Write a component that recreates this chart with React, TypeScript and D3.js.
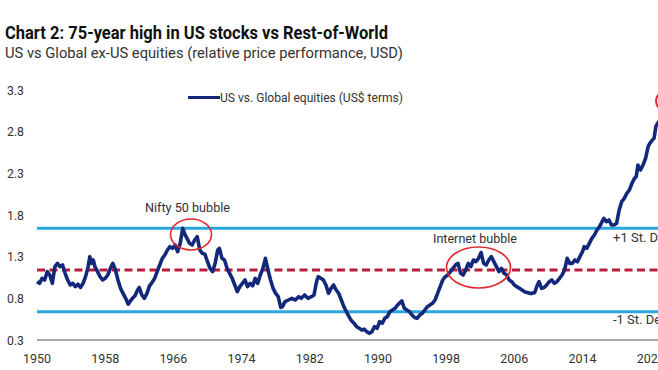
import * as d3 from "d3";
import React, { useRef, useEffect } from "react";

// year (decimal) and US / ex-US relative price
const years = [
  1950.0, 1950.3, 1950.6, 1950.9, 1951.2, 1951.5, 1951.8, 1952.1, 1952.4, 1952.7,
  1953.0, 1953.3, 1953.6, 1953.9, 1954.2, 1954.5, 1954.8, 1955.1, 1955.4, 1955.7,
  1956.0, 1956.2, 1956.4, 1956.6, 1956.8, 1957.1, 1957.4, 1957.7, 1958.0, 1958.3,
  1958.7, 1958.9, 1959.2, 1959.5, 1959.8, 1960.1, 1960.4, 1960.7, 1960.9, 1961.2,
  1961.5, 1961.8, 1962.0, 1962.3, 1962.6, 1962.9, 1963.2, 1963.5, 1963.8, 1964.1,
  1964.4, 1964.7, 1965.0, 1965.3, 1965.6, 1965.9, 1966.2, 1966.5, 1966.8, 1967.1,
  1967.3, 1967.6, 1967.9, 1968.2, 1968.5, 1968.8, 1969.1, 1969.4, 1969.7, 1970.0,
  1970.3, 1970.6, 1970.9, 1971.2, 1971.4, 1971.7, 1972.0, 1972.3, 1972.6, 1972.9,
  1973.2, 1973.5, 1973.8, 1974.1, 1974.4, 1974.7, 1975.0, 1975.3, 1975.6, 1975.9,
  1976.2, 1976.5, 1976.8, 1977.1, 1977.4, 1977.7, 1978.0, 1978.3, 1978.6, 1978.8,
  1979.1, 1979.5, 1979.9, 1980.3, 1980.7, 1981.0, 1981.4, 1981.8, 1982.2, 1982.5,
  1982.8, 1983.0, 1983.3, 1983.6, 1983.9, 1984.2, 1984.5, 1984.8, 1985.1, 1985.4,
  1985.7, 1986.0, 1986.3, 1986.6, 1986.9, 1987.2, 1987.5, 1987.8, 1988.1, 1988.4,
  1988.7, 1989.0, 1989.3, 1989.6, 1989.9, 1990.2, 1990.5, 1990.8, 1991.1, 1991.4,
  1991.7, 1992.0, 1992.3, 1992.6, 1992.8, 1993.1, 1993.4, 1993.7, 1994.0, 1994.3,
  1994.6, 1994.9, 1995.2, 1995.5, 1995.8, 1996.1, 1996.4, 1996.7, 1997.0, 1997.3,
  1997.6, 1997.9, 1998.2, 1998.5, 1998.8, 1999.1, 1999.4, 1999.7, 2000.0, 2000.3,
  2000.6, 2000.9, 2001.2, 2001.5, 2001.8, 2002.1, 2002.4, 2002.7, 2003.0, 2003.3,
  2003.6, 2003.9, 2004.2, 2004.5, 2004.8, 2005.1, 2005.4, 2005.7, 2006.0, 2006.3,
  2006.6, 2006.9, 2007.2, 2007.5, 2007.8, 2008.1, 2008.4, 2008.7, 2008.9, 2009.2,
  2009.5, 2009.8, 2010.1, 2010.4, 2010.7, 2011.0, 2011.3, 2011.6, 2011.9, 2012.2,
  2012.5, 2012.8, 2013.1, 2013.4, 2013.7, 2014.0, 2014.2, 2014.5, 2014.8, 2015.1,
  2015.4, 2015.7, 2016.0, 2016.3, 2016.5, 2016.8, 2017.1, 2017.4, 2017.7, 2018.0,
  2018.3, 2018.6, 2018.9, 2019.2, 2019.5, 2019.8, 2020.1, 2020.3, 2020.5, 2020.8,
  2021.1, 2021.4, 2021.7, 2021.9, 2022.2, 2022.4, 2022.6, 2022.8, 2023.1, 2023.5,
  2023.9, 2024.3,
];
const usVsGlobal = [
  1.0, 0.98, 1.04, 1.02, 1.12, 1.08, 0.98, 1.18, 1.22, 1.18,
  1.2, 1.1, 1.02, 0.96, 0.98, 0.94, 0.97, 0.93, 0.98, 1.06,
  1.18, 1.3, 1.22, 1.26, 1.18, 1.12, 1.06, 1.02, 1.04, 1.08,
  1.18, 1.22, 1.14, 1.02, 0.92, 0.86, 0.8, 0.73, 0.76, 0.8,
  0.83, 0.9, 0.93, 0.84, 0.8, 0.86, 0.95, 0.99, 1.04, 1.12,
  1.2, 1.28, 1.32, 1.38, 1.42, 1.4, 1.44, 1.36, 1.46, 1.64,
  1.58, 1.52, 1.46, 1.44, 1.5, 1.54, 1.38, 1.34, 1.33, 1.24,
  1.16, 1.12, 1.22, 1.38, 1.4, 1.28, 1.26, 1.16, 1.1, 1.04,
  0.96, 0.88, 0.94, 0.98, 1.02, 0.94, 0.98, 0.95, 1.04, 0.98,
  1.08, 1.16, 1.28, 1.14, 1.02, 0.92, 0.86, 0.82, 0.69, 0.7,
  0.76, 0.78, 0.8, 0.78, 0.82, 0.8, 0.84, 0.8, 0.82, 0.84,
  1.0, 1.06, 1.04, 1.02, 0.96, 0.86, 0.92, 0.96, 0.9, 0.86,
  0.78, 0.7, 0.64, 0.58, 0.53, 0.5, 0.46, 0.44, 0.42, 0.43,
  0.4, 0.38, 0.4, 0.46, 0.44, 0.52, 0.5, 0.56, 0.58, 0.64,
  0.66, 0.68, 0.72, 0.75, 0.77, 0.68, 0.66, 0.64, 0.6, 0.57,
  0.56, 0.6, 0.62, 0.66, 0.7, 0.72, 0.74, 0.78, 0.86, 0.94,
  1.02, 1.06, 1.08, 1.12, 1.16, 1.2, 1.22, 1.1, 1.08, 1.14,
  1.22, 1.18, 1.26, 1.24, 1.28, 1.35, 1.22, 1.2, 1.26, 1.3,
  1.24, 1.18, 1.12, 1.16, 1.1, 1.08, 1.02, 1.0, 0.96, 0.94,
  0.92, 0.9, 0.88, 0.87, 0.86, 0.86, 0.87, 0.96, 1.0, 0.92,
  0.93, 0.96, 1.0, 1.02, 0.98, 1.0, 1.04, 1.08, 1.14, 1.28,
  1.22, 1.22, 1.26, 1.24, 1.3, 1.36, 1.42, 1.4, 1.46, 1.52,
  1.56, 1.62, 1.66, 1.72, 1.76, 1.72, 1.74, 1.68, 1.68, 1.7,
  1.86, 1.96, 2.0, 2.06, 2.1, 2.18, 2.24, 2.26, 2.4, 2.34,
  2.4, 2.48, 2.62, 2.66, 2.7, 2.72, 2.86, 2.9, 2.94, 3.02,
  3.1, 3.16,
];
const yTicks = [0.3, 0.8, 1.3, 1.8, 2.3, 2.8, 3.3];
const xTicks = [1950, 1958, 1966, 1974, 1982, 1990, 1998, 2006, 2014, 2022];
const bands = { mean: 1.14, plus: 1.64, minus: 0.64 };

const W = 658;
const H = 370;
const font = "Roboto, 'Liberation Sans', sans-serif";

const drawChart = (svgEl: any) => {
  const svg = d3.select(svgEl);
  svg.selectAll("*").remove();

  const x = d3.scaleLinear().domain([1950, 2014]).range([37, 582.5]);
  const y = d3.scaleLinear().domain([0.3, 3.3]).range([340, 90]);
  const x0 = 37;

  // title + subtitle
  svg.append("text").attr("x", 5).attr("y", 39)
    .attr("font-size", 17.5).attr("font-weight", 700).attr("fill", "#111")
    .attr("textLength", 383).attr("lengthAdjust", "spacingAndGlyphs")
    .text("Chart 2: 75-year high in US stocks vs Rest-of-World");
  svg.append("text").attr("x", 5).attr("y", 58)
    .attr("font-size", 15.5).attr("fill", "#333")
    .attr("textLength", 398).attr("lengthAdjust", "spacingAndGlyphs")
    .text("US vs Global ex-US equities (relative price performance, USD)");

  // y labels
  svg.selectAll(".ylab").data(yTicks).enter().append("text")
    .attr("x", 7).attr("y", (d: number) => y(d) + 4.5)
    .attr("font-size", 13).attr("fill", "#333")
    .attr("textLength", 17).attr("lengthAdjust", "spacingAndGlyphs")
    .text((d: number) => d.toFixed(1));

  // x axis line + labels
  svg.append("line").attr("x1", x0).attr("x2", W).attr("y1", y(0.3)).attr("y2", y(0.3))
    .attr("stroke", "#8a8a8a").attr("stroke-width", 1.5);
  svg.selectAll(".xlab").data(xTicks).enter().append("text")
    .attr("x", (d: number) => x(d)).attr("y", 363)
    .attr("text-anchor", "middle").attr("font-size", 13.5).attr("fill", "#333")
    .attr("textLength", 28).attr("lengthAdjust", "spacingAndGlyphs")
    .text((d: number) => String(d));

  // st dev bands
  [bands.plus, bands.minus].forEach((v) => {
    svg.append("line").attr("x1", x0).attr("x2", W).attr("y1", y(v)).attr("y2", y(v))
      .attr("stroke", "#2ba6de").attr("stroke-width", 3);
  });
  svg.append("line").attr("x1", x0).attr("x2", W).attr("y1", y(bands.mean)).attr("y2", y(bands.mean))
    .attr("stroke", "#b81d3c").attr("stroke-width", 3).attr("stroke-dasharray", "8 4.5");

  // main series
  const pts = years.map((yr, i) => [yr, usVsGlobal[i]] as [number, number]);
  const line = d3.line<[number, number]>()
    .x((d) => x(d[0]))
    .y((d) => y(d[1]));
  svg.append("path").datum(pts).attr("d", line as any)
    .attr("fill", "none").attr("stroke", "#13287a").attr("stroke-width", 3.6)
    .attr("stroke-linejoin", "round");

  // annotations
  svg.append("text").attr("x", 145).attr("y", 212).attr("font-size", 13).attr("fill", "#333")
    .attr("textLength", 85).attr("lengthAdjust", "spacingAndGlyphs").text("Nifty 50 bubble");
  svg.append("ellipse").attr("cx", 191).attr("cy", 234.5).attr("rx", 20.5).attr("ry", 15.5)
    .attr("fill", "none").attr("stroke", "#e3262b").attr("stroke-width", 1.6);
  svg.append("text").attr("x", 433).attr("y", 243).attr("font-size", 13).attr("fill", "#333")
    .attr("textLength", 84).attr("lengthAdjust", "spacingAndGlyphs").text("Internet bubble");
  svg.append("ellipse").attr("cx", 478.5).attr("cy", 267.5).attr("rx", 32).attr("ry", 20.5)
    .attr("fill", "none").attr("stroke", "#e3262b").attr("stroke-width", 1.6);
  svg.append("ellipse").attr("cx", 672).attr("cy", 101).attr("rx", 16).attr("ry", 12)
    .attr("fill", "none").attr("stroke", "#e3262b").attr("stroke-width", 2);
  svg.append("text").attr("x", 613).attr("y", 242).attr("font-size", 13).attr("fill", "#333")
    .text("+1 St. Dev");
  svg.append("text").attr("x", 613).attr("y", 324).attr("font-size", 13).attr("fill", "#333")
    .text("-1 St. Dev");

  // legend
  svg.append("line").attr("x1", 188).attr("x2", 220).attr("y1", 97.5).attr("y2", 97.5)
    .attr("stroke", "#13287a").attr("stroke-width", 3);
  svg.append("text").attr("x", 220).attr("y", 102).attr("font-size", 12.5).attr("fill", "#333")
    .attr("textLength", 183).attr("lengthAdjust", "spacingAndGlyphs")
    .text("US vs. Global equities (US$ terms)");
};

function App() {
  const ref = useRef<any>();
  useEffect(() => {
    drawChart(ref.current);
  }, []);
  return (
    <svg ref={ref} width={W} height={H}
      style={{ position: "absolute", left: 0, top: 0, background: "#fff", fontFamily: font }} />
  );
}

export default App;
